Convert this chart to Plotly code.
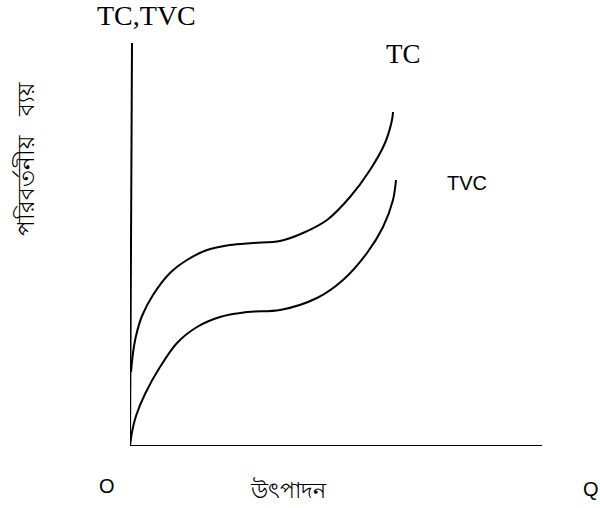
import plotly.graph_objects as go

# output (x) and cost (y) readings, in chart units
TC_X = [1, 3, 6, 12, 23, 40, 57, 77, 100, 123, 150, 173, 197, 220, 240, 255, 262, 263]
TC_Y = [74, 93, 110, 130, 151, 173, 186, 196, 201, 203, 205, 213, 226, 249, 276, 303, 326, 334]

TVC_X = [0, 2, 6, 15, 30, 47, 67, 90, 117, 150, 187, 213, 237, 253, 263, 266]
TVC_Y = [0, 14, 30, 52, 79, 103, 119, 129, 134, 136, 148, 166, 193, 219, 246, 266]

X_MAX = 413
Y_MAX = 403

# plot box in page pixels
LEFT, TOP, RIGHT, BOTTOM = 130, 43, 543, 446

SANS = "Liberation Sans, Noto Sans, sans-serif"
SERIF = "Liberation Serif, Times New Roman, serif"


def px(x, y):
    return (x - LEFT) / (RIGHT - LEFT), (BOTTOM - y) / (BOTTOM - TOP)


fig = go.Figure()

for xs, ys, name in [(TC_X, TC_Y, "TC"), (TVC_X, TVC_Y, "TVC")]:
    fig.add_trace(
        go.Scatter(
            x=xs,
            y=ys,
            mode="lines",
            name=name,
            line=dict(color="black", width=2, shape="spline", smoothing=0.9),
            hoverinfo="skip",
            showlegend=False,
        )
    )

# axis lines (the vertical one leans a touch, as drawn by hand)
fig.add_shape(type="line", x0=0, y0=0, x1=2, y1=Y_MAX, line=dict(color="black", width=2))
fig.add_shape(type="line", x0=0, y0=0, x1=412, y1=0, line=dict(color="black", width=2))

labels = [
    ("TC,TVC", 146, 15, SERIF, 28, 0),
    ("TC", 403, 54, SERIF, 27, 0),
    ("TVC", 467, 183, SANS, 20, 0),
    ("O", 107, 486, SANS, 20, 0),
    ("উৎপাদন", 288, 490, SANS, 22, 0),
    ("Q", 591, 489, SANS, 20, 0),
    ("পরিবর্তনীয়   ব্যয়", 25, 159, SANS, 23, -90),
]
for text, lx, ly, family, size, angle in labels:
    ax, ay = px(lx, ly)
    fig.add_annotation(
        text=text, x=ax, y=ay, xref="paper", yref="paper",
        xanchor="center", yanchor="middle",
        showarrow=False, textangle=angle,
        font=dict(family=family, size=size, color="black"),
    )

fig.update_xaxes(range=[0, X_MAX], visible=False)
fig.update_yaxes(range=[0, Y_MAX], visible=False)
fig.update_layout(
    width=600,
    height=508,
    margin=dict(l=LEFT, r=600 - RIGHT, t=TOP, b=508 - BOTTOM),
    plot_bgcolor="white",
    paper_bgcolor="white",
)

fig.write_html(
    "out.html",
    config={"displayModeBar": False},
    post_script="document.body.style.margin = '0px';",
)
